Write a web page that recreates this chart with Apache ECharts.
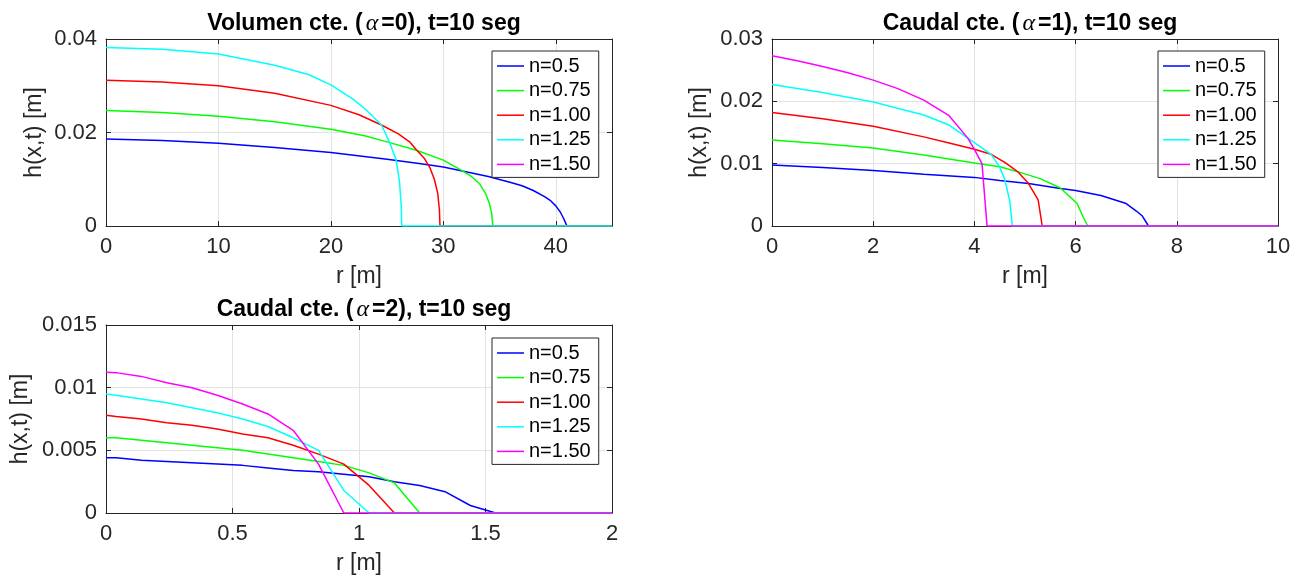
<!DOCTYPE html>
<html>
<head>
<meta charset="utf-8">
<script src="https://cdn.jsdelivr.net/npm/echarts@6/dist/echarts.min.js"></script>
<style>
html,body{margin:0;padding:0;background:#fff;}
#c{width:1305px;height:578px;}
</style>
</head>
<body>
<div id="c"></div>
<script>
// ---------- data ----------
const legendNames = ['n=0.5', 'n=0.75', 'n=1.00', 'n=1.25', 'n=1.50'];

// Volumen cte. (alpha=0)
const vol_n050 = [[0,0.0186],[5,0.0183],[10,0.0177],[15,0.0168],[20,0.0157],[25,0.0143],[28,0.0133],[30,0.0126],[32,0.0116],[34,0.0106],[36,0.0093],[37,0.0086],[38,0.0076],[39,0.0063],[39.5,0.0055],[40,0.0043],[40.4,0.0030],[40.7,0.0016],[40.9,0.0005],[41,0],[45,0]];
const vol_n075 = [[0,0.0247],[5,0.0243],[10,0.0235],[15,0.0223],[20,0.0207],[23,0.0193],[25,0.0180],[27.6,0.0162],[30,0.0141],[31.7,0.0118],[32.5,0.0106],[33.2,0.0091],[33.75,0.0070],[34.1,0.0048],[34.3,0.0027],[34.4,0],[45,0]];
const vol_n100 = [[0,0.0312],[5,0.0308],[10,0.0300],[15,0.0284],[20,0.0258],[22.5,0.0238],[24.5,0.0216],[26,0.0197],[27,0.0180],[27.6,0.0163],[28.3,0.0145],[28.8,0.0125],[29.2,0.0100],[29.5,0.0070],[29.65,0.0035],[29.7,0],[45,0]];
const vol_n125 = [[0,0.0382],[5,0.0378],[10,0.0368],[15,0.0344],[18,0.0324],[20,0.0302],[22,0.0271],[23.2,0.0247],[24.5,0.0216],[25.2,0.0180],[25.8,0.0142],[26.1,0.0095],[26.25,0.0045],[26.3,0],[45,0]];
const vol_n150 = [];

// Caudal cte. (alpha=1)
const q1_n050 = [[0,0.0098],[1,0.0094],[2,0.0089],[3,0.0083],[4,0.0078],[4.5,0.0073],[5.07,0.0068],[5.7,0.0060],[6,0.0057],[6.5,0.0049],[7,0.0036],[7.2,0.0024],[7.32,0.0016],[7.44,0],[10,0]];
const q1_n075 = [[0,0.0138],[1,0.0132],[2,0.0125],[3,0.0114],[4,0.0101],[4.5,0.0095],[4.9,0.0086],[5.3,0.0076],[5.7,0.0061],[6.03,0.0036],[6.14,0.0016],[6.24,0],[10,0]];
const q1_n100 = [[0,0.0182],[1,0.0172],[2,0.0160],[3,0.0143],[3.5,0.0133],[4,0.0123],[4.33,0.0115],[4.6,0.0102],[4.86,0.0087],[5.07,0.0068],[5.26,0.0042],[5.34,0],[10,0]];
const q1_n125 = [[0,0.0227],[1,0.0214],[2,0.0199],[3,0.0178],[3.5,0.0162],[3.87,0.0141],[4.1,0.0128],[4.33,0.0115],[4.49,0.0096],[4.6,0.0075],[4.7,0.0040],[4.75,0],[10,0]];
const q1_n150 = [[0,0.0273],[0.5,0.0265],[1,0.0256],[1.5,0.0246],[2,0.0234],[2.5,0.0220],[3,0.0202],[3.5,0.0177],[3.87,0.0141],[4.0,0.0123],[4.15,0.0100],[4.25,0],[10,0]];

// Caudal cte. (alpha=2)
const q2_n050 = [[0,0.0044],[0.04,0.0044],[0.14,0.0042],[0.24,0.0041],[0.34,0.0040],[0.44,0.0039],[0.54,0.0038],[0.64,0.0036],[0.74,0.0034],[0.84,0.0033],[0.94,0.0031],[1.04,0.0029],[1.14,0.0025],[1.24,0.0022],[1.34,0.0017],[1.44,0.0006],[1.54,0],[2,0]];
const q2_n075 = [[0,0.0060],[0.04,0.0060],[0.14,0.0058],[0.24,0.0056],[0.34,0.0054],[0.44,0.0052],[0.54,0.0050],[0.64,0.0047],[0.74,0.0044],[0.84,0.0041],[0.94,0.0038],[1.04,0.0032],[1.14,0.0024],[1.24,0],[2,0]];
const q2_n100 = [[0,0.0078],[0.04,0.0077],[0.14,0.0075],[0.24,0.0072],[0.34,0.0070],[0.44,0.0067],[0.54,0.0063],[0.64,0.0060],[0.74,0.0054],[0.84,0.0047],[0.94,0.0039],[1.04,0.0022],[1.14,0],[2,0]];
const q2_n125 = [[0,0.0095],[0.04,0.0094],[0.14,0.0091],[0.24,0.0088],[0.34,0.0084],[0.44,0.0080],[0.54,0.0075],[0.64,0.0069],[0.74,0.0060],[0.84,0.0050],[0.94,0.0018],[1.04,0],[2,0]];
const q2_n150 = [[0,0.01123],[0.04,0.0112],[0.14,0.0109],[0.24,0.0104],[0.34,0.0100],[0.44,0.0094],[0.54,0.0087],[0.64,0.0079],[0.74,0.0066],[0.84,0.0039],[0.94,0],[2,0]];

// axis tick settings
const xTicks1 = {min: 0, max: 45, interval: 10};
const yTicks1 = {min: 0, max: 0.04, interval: 0.02};
const xTicks2 = {min: 0, max: 10, interval: 2};
const yTicks2 = {min: 0, max: 0.03, interval: 0.01};
const xTicks3 = {min: 0, max: 2, interval: 0.5};
const yTicks3 = {min: 0, max: 0.015, interval: 0.005};

// ---------- styles / layout ----------
const colors = ['#0000ff', '#00ff00', '#ff0000', '#00ffff', '#ff00ff'];
const FONT = 'Liberation Sans, Arial, sans-serif';
const AX = '#262626';

const panels = [
  {title: ['Volumen cte. (', '=0), t=10 seg'], grid: {left: 106, top: 39, width: 506, height: 187},
   x: xTicks1, y: yTicks1, data: [vol_n050, vol_n075, vol_n100, vol_n125, vol_n150], yGap: 60, hideMaxX: true,
   legend: {left: 492, top: 51}, titleTop: 7},
  {title: ['Caudal cte. (', '=1), t=10 seg'], grid: {left: 772, top: 39, width: 506, height: 187},
   x: xTicks2, y: yTicks2, data: [q1_n050, q1_n075, q1_n100, q1_n125, q1_n150], yGap: 61, hideMaxX: false,
   legend: {left: 1158, top: 51}, titleTop: 7},
  {title: ['Caudal cte. (', '=2), t=10 seg'], grid: {left: 106, top: 325, width: 506, height: 188},
   x: xTicks3, y: yTicks3, data: [q2_n050, q2_n075, q2_n100, q2_n125, q2_n150], yGap: 74, hideMaxX: false,
   legend: {left: 492, top: 338}, titleTop: 293}
];

function fmt(v) { return String(+v.toFixed(6)); }

const option = {
  animation: false,
  backgroundColor: '#fff',
  title: [], grid: [], xAxis: [], yAxis: [], legend: [], series: []
};

panels.forEach((p, i) => {
  option.grid.push(Object.assign({containLabel: false}, p.grid));
  option.title.push({
    text: '{b|' + p.title[0] + '}{a|α}{b|' + p.title[1] + '}',
    left: p.grid.left + p.grid.width / 2,
    top: p.titleTop,
    textAlign: 'center',
    textStyle: {
      rich: {
        b: {fontFamily: FONT, fontWeight: 'bold', fontSize: 23, color: '#000'},
        a: {fontFamily: 'Liberation Serif, DejaVu Serif, serif', fontStyle: 'italic', fontWeight: 'normal', fontSize: 24, color: '#000', padding: [0, 3, 0, 3]}
      }
    }
  });
  const lineAx = {show: true, onZero: false, lineStyle: {color: AX, width: 1}};
  const tickAx = {show: true, inside: true, length: 5, lineStyle: {color: AX, width: 1}};
  option.xAxis.push({
    gridIndex: i, type: 'value', position: 'bottom',
    min: p.x.min, max: p.x.max, interval: p.x.interval,
    axisLine: lineAx, axisTick: tickAx,
    axisLabel: {color: AX, fontSize: 22, fontFamily: FONT, margin: 10, formatter: fmt, showMaxLabel: !p.hideMaxX},
    splitLine: {show: true, lineStyle: {color: '#e2e2e2', width: 1}},
    name: 'r [m]', nameLocation: 'middle', nameGap: 39,
    nameTextStyle: {color: AX, fontSize: 23, fontFamily: FONT}
  });
  option.xAxis.push({
    gridIndex: i, type: 'value', position: 'top',
    min: p.x.min, max: p.x.max, interval: p.x.interval,
    axisLine: lineAx, axisTick: tickAx, axisLabel: {show: false}, splitLine: {show: false}
  });
  option.yAxis.push({
    gridIndex: i, type: 'value', position: 'left',
    min: p.y.min, max: p.y.max, interval: p.y.interval,
    axisLine: lineAx, axisTick: tickAx,
    axisLabel: {color: AX, fontSize: 22, fontFamily: FONT, margin: 9, formatter: fmt},
    splitLine: {show: true, lineStyle: {color: '#e2e2e2', width: 1}},
    name: 'h(x,t) [m]', nameLocation: 'middle', nameGap: p.yGap,
    nameTextStyle: {color: AX, fontSize: 23, fontFamily: FONT}
  });
  option.yAxis.push({
    gridIndex: i, type: 'value', position: 'right',
    min: p.y.min, max: p.y.max, interval: p.y.interval,
    axisLine: lineAx, axisTick: tickAx, axisLabel: {show: false}, splitLine: {show: false}
  });
  option.legend.push({
    orient: 'vertical', left: p.legend.left, top: p.legend.top,
    icon: 'rect', itemWidth: 27, itemHeight: 1.5, itemGap: 4.6,
    padding: [5, 8, 3, 5],
    borderColor: AX, borderWidth: 1, backgroundColor: '#fff',
    textStyle: {fontSize: 20, color: '#000', fontFamily: FONT, lineHeight: 20},
    selectedMode: false,
    data: legendNames
  });
  p.data.forEach((d, k) => {
    option.series.push({
      name: legendNames[k], type: 'line',
      xAxisIndex: i * 2, yAxisIndex: i * 2,
      data: d, symbol: 'none', showSymbol: false,
      color: colors[k],
      itemStyle: {color: colors[k]},
      lineStyle: {color: colors[k], width: 1.5},
      z: 2 + k
    });
  });
});

const chart = echarts.init(document.getElementById('c'));
chart.setOption(option);
</script>
</body>
</html>
